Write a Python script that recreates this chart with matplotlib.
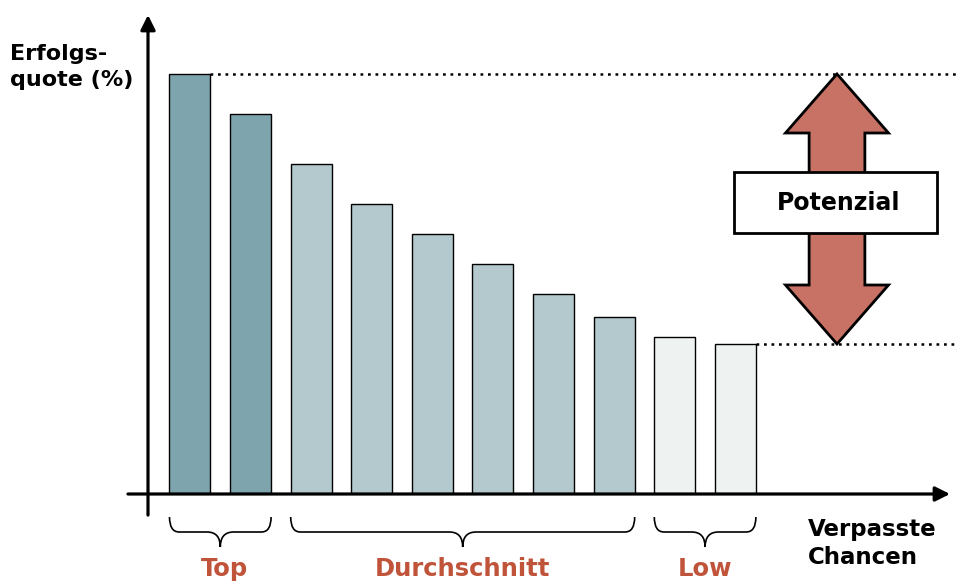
import matplotlib
matplotlib.use("Agg")
import matplotlib.pyplot as plt
import numpy as np
from matplotlib.path import Path
from matplotlib.patches import PathPatch, Polygon, Rectangle

# Erfolgsquote per Vertriebler (arbitrary scale)
values = [84, 76, 66, 58, 52, 46, 40, 35.5, 31.5, 30]
groups = ["Top", "Durchschnitt", "Low"]
group_sizes = [2, 6, 2]
group_colors = ["#7ea4ad", "#b4c9cd", "#eef3f2"]
label_color = "#c0543a"
arrow_color = "#c87266"

W, H = 956, 586
fig = plt.figure(figsize=(W / 100, H / 100), dpi=100)
ax = fig.add_axes([148 / W, 92 / H, 802 / W, 479 / H])
pitch = 60.6
x0 = -0.693
ax.set_xlim(x0, x0 + 802 / pitch)
ax.set_ylim(0, 479 / 5)
ax.axis("off")

x = np.arange(len(values))
colors = []
for c, n in zip(group_colors, group_sizes):
    colors += [c] * n
bw = 41 / pitch
ax.bar(x, values, width=bw, color=colors, edgecolor="black", linewidth=1.0, zorder=3)

# axes with arrows
ap = dict(arrowstyle="-|>", lw=2.3, color="black", mutation_scale=22, shrinkA=0, shrinkB=0)
ax.annotate("", xy=(0, 1.0), xytext=(0, -0.044), xycoords="axes fraction", arrowprops=ap)
ax.annotate("", xy=(1.0, 0), xytext=(-0.025, 0), xycoords="axes fraction", arrowprops=ap)

# dotted reference lines
x_end = (W - 148) / pitch + x0
dots = dict(color="black", lw=1.8, linestyle=(0, (1.1, 1.9)), clip_on=False, zorder=2)
ax.plot([x[0] + bw / 2, x_end], [values[0]] * 2, **dots)
ax.plot([x[-1] + bw / 2, x_end], [values[-1]] * 2, **dots)

# double arrow "Potenzial"
cx = (837 - 148) / pitch + x0
hw, sw, hl = 0.85, 0.46, 11.8
top, bot = values[0], values[-1]
pts = [(cx, top), (cx + hw, top - hl), (cx + sw, top - hl), (cx + sw, bot + hl),
       (cx + hw, bot + hl), (cx, bot), (cx - hw, bot + hl), (cx - sw, bot + hl),
       (cx - sw, top - hl), (cx - hw, top - hl)]
ax.add_patch(Polygon(pts, closed=True, facecolor=arrow_color, edgecolor="black",
                     lw=2.0, joinstyle="miter", zorder=4, clip_on=False))
bx0 = (734 - 148) / pitch + x0
bx1 = (937 - 148) / pitch + x0
by0, by1 = (494 - 233) / 5, (494 - 172) / 5
ax.add_patch(Rectangle((bx0, by0), bx1 - bx0, by1 - by0, facecolor="white",
                       edgecolor="black", lw=2.0, zorder=5, clip_on=False))
ax.text((bx0 + bx1) / 2 + 0.05, (by0 + by1) / 2, "Potenzial", ha="center", va="center",
        fontsize=17, fontweight="bold", zorder=6)


def brace(xa, xb, ytop=-4.6, ymid=-7.6, ytip=-10.6, r=0.16, rc=0.22):
    xc = (xa + xb) / 2
    verts = [(xa, ytop), (xa, ymid), (xa + r, ymid), (xc - rc, ymid),
             (xc, ymid), (xc, ytip), (xc, ymid), (xc + rc, ymid),
             (xb - r, ymid), (xb, ymid), (xb, ytop)]
    codes = [Path.MOVETO, Path.CURVE3, Path.CURVE3, Path.LINETO,
             Path.CURVE3, Path.CURVE3, Path.CURVE3, Path.CURVE3,
             Path.LINETO, Path.CURVE3, Path.CURVE3]
    ax.add_patch(PathPatch(Path(verts, codes), fill=False, lw=1.2,
                           edgecolor="black", clip_on=False))
    return xc


start = 0
for g, n in zip(groups, group_sizes):
    xa = x[start] - bw / 2
    xb = x[start + n - 1] + bw / 2
    xc = brace(xa, xb)
    ax.text(xc + (0.07 if start == 0 else 0), -12.6, g, ha="center", va="top",
            fontsize=17.5, fontweight="bold", color=label_color)
    start += n

fig.text(10 / W, 1 - 44 / H, "Erfolgs-\nquote (%)", ha="left", va="top",
         fontsize=16, fontweight="bold", linespacing=1.4)
fig.text(808 / W, 1 - 518 / H, "Verpasste\nChancen", ha="left", va="top",
         fontsize=16.5, fontweight="bold", linespacing=1.3)

fig.savefig("out.png", dpi=100, facecolor="white")
